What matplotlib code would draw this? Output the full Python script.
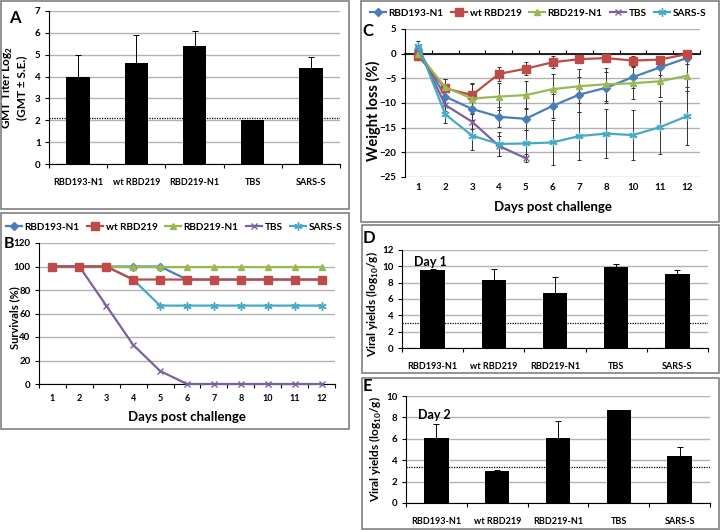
import numpy as np
import matplotlib
matplotlib.use("Agg")
import matplotlib.pyplot as plt
from matplotlib.patches import Rectangle
from matplotlib.transforms import blended_transform_factory

plt.rcParams['font.family'] = ['Lato', 'DejaVu Sans']
plt.rcParams['font.weight'] = 'bold'
plt.rcParams['mathtext.fontset'] = 'custom'
plt.rcParams['mathtext.rm'] = 'Lato:bold'
plt.rcParams['mathtext.bf'] = 'Lato:bold'

# DATA
groups = ['RBD193-N1', 'wt RBD219', 'RBD219-N1', 'TBS', 'SARS-S']
days = ['1', '2', '3', '4', '5', '6', '7', '8', '10', '11', '12']

gmt = [4.0, 4.6, 5.4, 2.0, 4.4]
gmt_err = [1.0, 1.3, 0.7, 0.0, 0.5]
gmt_cutoff = 2.1

surv_rbd193 = [100, 100, 100, 100, 100, 88.9, 88.9, 88.9, 88.9, 88.9, 88.9]
surv_wt219 = [100, 100, 100, 88.9, 88.9, 88.9, 88.9, 88.9, 88.9, 88.9, 88.9]
surv_rbd219 = [100, 100, 100, 100, 100, 100, 100, 100, 100, 100, 100]
surv_tbs = [100, 100, 66.7, 33.3, 11.1, 0, 0, 0, 0, 0, 0]
surv_sars = [100, 100, 100, 88.9, 66.7, 66.7, 66.7, 66.7, 66.7, 66.7, 66.7]

wl_rbd193 = [0.8, -8.7, -11.2, -12.8, -13.2, -10.6, -8.3, -6.9, -4.75, -2.8, -0.9]
wl_rbd193_err = [0.8, 1.8, 2.2, 2.0, 2.2, 2.5, 3.6, 3.2, 2.2, 1.5, 1.2]
wl_wt219 = [-0.5, -7.0, -8.4, -4.1, -3.05, -1.75, -1.1, -0.9, -1.4, -1.2, -0.1]
wl_wt219_err = [0.6, 1.9, 2.5, 1.4, 1.3, 1.2, 0.8, 0.7, 1.0, 0.8, 0.9]
wl_rbd219 = [0.0, -6.8, -9.1, -8.7, -8.4, -7.2, -6.6, -6.2, -6.0, -5.6, -4.5]
wl_rbd219_err = [0.8, 1.6, 3.0, 2.8, 2.8, 3.0, 3.4, 3.3, 3.2, 3.1, 3.0]
wl_tbs = [1.0, -10.4, -13.8, -18.7, -21.2]
wl_tbs_err = [0.6, 1.2, 1.5, 2.1, 0.8]
wl_sars = [1.6, -12.3, -16.6, -18.3, -18.2, -18.0, -16.7, -16.2, -16.5, -14.9, -12.7]
wl_sars_err = [0.9, 1.7, 2.9, 2.4, 2.8, 4.6, 4.8, 4.9, 5.0, 5.4, 5.9]

day1 = [9.6, 8.3, 6.7, 9.9, 9.1]
day1_err = [0.05, 1.35, 1.95, 0.35, 0.4]
day1_cutoff = 3.1
day2 = [6.1, 3.0, 6.1, 8.65, 4.4]
day2_err = [1.3, 0.1, 1.55, 0.05, 0.8]
day2_cutoff = 3.35

# STYLES
W, H = 720, 531
line_colors = ['#4a7ebb', '#be4b48', '#98b954', '#7d60a0', '#46aac5']
line_markers = ['D', 's', '^', 'x', (6, 2, 0)]
marker_sizes = [4, 5.5, 5, 5, 6]
grid_color = '#b3b3b3'
box_color = '#808080'


def rect(l, t, r, b):
    # pixel box -> figure fraction [left, bottom, width, height]
    return [l / W, 1 - b / H, (r - l) / W, (b - t) / H]


fig = plt.figure(figsize=(7.2, 5.31), dpi=100)

# PANEL FRAMES
for l, t, r, b in [(1, 1, 349, 209), (1, 213, 349, 429), (361, 1, 719, 222),
                   (362, 225, 719, 373), (362, 378, 719, 529)]:
    fig.add_artist(Rectangle((l / W, 1 - b / H), (r - l) / W, (b - t) / H,
                             transform=fig.transFigure, fill=False,
                             edgecolor=box_color, linewidth=1.2))


def style_axes(ax):
    ax.spines['top'].set_visible(False)
    ax.spines['right'].set_visible(False)
    ax.yaxis.grid(True, color=grid_color, linewidth=1.0)
    ax.set_axisbelow(True)
    ax.tick_params(axis='y', labelsize=7, length=3, width=0.8, direction='out', pad=3)
    ax.tick_params(axis='x', which='both', labelsize=6.5)


def bar_panel(ax, vals, errs, cutoff, ymax, step):
    x = np.arange(len(groups))
    ax.bar(x, vals, width=0.4, color='black', zorder=2)
    ax.errorbar(x, vals, yerr=[np.zeros(len(errs)), errs], fmt='none',
                ecolor='black', elinewidth=0.7, capsize=2, capthick=0.7, zorder=3)
    ax.axhline(cutoff, color='black', linestyle=(0, (1, 1)), linewidth=0.9, zorder=3)
    ax.set_xlim(-0.5, len(groups) - 0.5)
    ax.set_ylim(0, ymax)
    ax.set_yticks(np.arange(0, ymax + 0.01, step))
    ax.set_xticks(x)
    ax.set_xticklabels(groups)
    ax.set_xticks(np.arange(-0.5, len(groups)), minor=True)
    ax.tick_params(axis='x', which='major', length=0, pad=10)
    ax.tick_params(axis='x', which='minor', length=3, width=0.8, direction='out')
    style_axes(ax)


def add_legend(ax, cx, cy):
    ax.legend(loc='center', bbox_to_anchor=(cx / W, 1 - cy / H), bbox_transform=fig.transFigure,
              ncol=5, frameon=False, fontsize=7.2, handlelength=1.6, columnspacing=0.7,
              handletextpad=0.3, borderaxespad=0)


# A - GMT TITERS
axA = fig.add_axes(rect(49, 11, 340, 164))
bar_panel(axA, gmt, gmt_err, gmt_cutoff, 7, 1)
axA.set_ylabel('GMT Titer Log$_2$\n(GMT ± S.E.)', fontsize=8.5, fontweight='bold', linespacing=1.1)
axA.yaxis.set_label_coords(-0.075, 0.5)
fig.text(15 / W, 1 - 18 / H, 'A', fontsize=12, fontweight='bold', ha='center', va='center')

# B - SURVIVAL
axB = fig.add_axes(rect(39, 243, 335, 384))
xd = np.arange(len(days))
surv = [surv_rbd193, surv_wt219, surv_rbd219, surv_tbs, surv_sars]
z_order = [2, 6, 3, 4, 5]
for i, s in enumerate(surv):
    axB.plot(xd, s, color=line_colors[i], marker=line_markers[i], markersize=marker_sizes[i],
             linewidth=1.6, label=groups[i], zorder=z_order[i], clip_on=False)
axB.set_xlim(-0.5, len(days) - 0.5)
axB.set_ylim(0, 120)
axB.set_yticks(np.arange(0, 121, 20))
axB.set_xticks(xd)
axB.set_xticklabels(days)
axB.set_xticks(np.arange(-0.5, len(days)), minor=True)
axB.tick_params(axis='x', which='major', length=0, pad=7)
axB.tick_params(axis='x', which='minor', length=3, width=0.8, direction='out')
style_axes(axB)
axB.set_ylabel('Survivals (%)', fontsize=8, fontweight='bold')
axB.yaxis.set_label_coords(-0.064, 0.47)
axB.set_xlabel('Days post challenge', fontsize=9.5, fontweight='bold', labelpad=6)
add_legend(axB, 174, 227)
fig.text(9 / W, 1 - 244 / H, 'B', fontsize=11.5, fontweight='bold', ha='center', va='center')

# C - WEIGHT LOSS
axC = fig.add_axes(rect(405, 29, 700, 177))
wl = [wl_rbd193, wl_wt219, wl_rbd219, wl_tbs, wl_sars]
wl_err = [wl_rbd193_err, wl_wt219_err, wl_rbd219_err, wl_tbs_err, wl_sars_err]
for i, s in enumerate(wl):
    xs = np.arange(len(s))
    axC.errorbar(xs, s, yerr=wl_err[i], fmt='none', ecolor='#333333', elinewidth=0.7,
                 capsize=1.5, capthick=0.7, zorder=2)
for i, s in enumerate(wl):
    xs = np.arange(len(s))
    axC.plot(xs, s, color=line_colors[i], marker=line_markers[i], markersize=marker_sizes[i],
             linewidth=1.6, label=groups[i], zorder=3 + i)
axC.set_xlim(-0.5, len(days) - 0.5)
axC.set_ylim(-25, 5)
axC.set_yticks(np.arange(-25, 6, 5))
axC.spines['bottom'].set_position(('data', 0))
axC.spines['bottom'].set_linewidth(1.2)
axC.set_xticks(xd)
axC.set_xticklabels([])
axC.set_xticks(np.arange(-0.5, len(days)), minor=True)
axC.tick_params(axis='x', which='major', length=0)
axC.tick_params(axis='x', which='minor', length=3, width=0.8, direction='in')
style_axes(axC)
trC = blended_transform_factory(axC.transData, axC.transAxes)
for i, d in enumerate(days):
    axC.text(i, -0.07, d, transform=trC, ha='center', va='center', fontsize=7, fontweight='bold')
axC.text(0.5, -0.2, 'Days post challenge', transform=axC.transAxes, ha='center', va='center',
         fontsize=9.5, fontweight='bold')
axC.set_ylabel('Weight loss (%)', fontsize=10.5, fontweight='bold')
axC.yaxis.set_label_coords(-0.08, 0.45)
add_legend(axC, 538, 13)
fig.text(368 / W, 1 - 31 / H, 'C', fontsize=12, fontweight='bold', ha='center', va='center')

# D - VIRAL YIELDS DAY 1
axD = fig.add_axes(rect(402, 250, 708, 348))
bar_panel(axD, day1, day1_err, day1_cutoff, 12, 2)
axD.set_ylabel('Viral yields (log$_{10}$/g)', fontsize=8.5, fontweight='bold')
axD.yaxis.set_label_coords(-0.069, 0.45)
axD.text(0.04, 0.88, 'Day 1', transform=axD.transAxes, fontsize=9, fontweight='bold', va='center')
fig.text(369 / W, 1 - 238 / H, 'D', fontsize=12, fontweight='bold', ha='center', va='center')

# E - VIRAL YIELDS DAY 2
axE = fig.add_axes(rect(406, 396, 710, 503))
bar_panel(axE, day2, day2_err, day2_cutoff, 10, 2)
axE.set_ylabel('Viral yields (log$_{10}$/g)', fontsize=8.5, fontweight='bold')
axE.yaxis.set_label_coords(-0.072, 0.5)
axE.text(0.04, 0.82, 'Day 2', transform=axE.transAxes, fontsize=9, fontweight='bold', va='center')
fig.text(367 / W, 1 - 386 / H, 'E', fontsize=12, fontweight='bold', ha='center', va='center')

fig.savefig('out.png', dpi=100)
